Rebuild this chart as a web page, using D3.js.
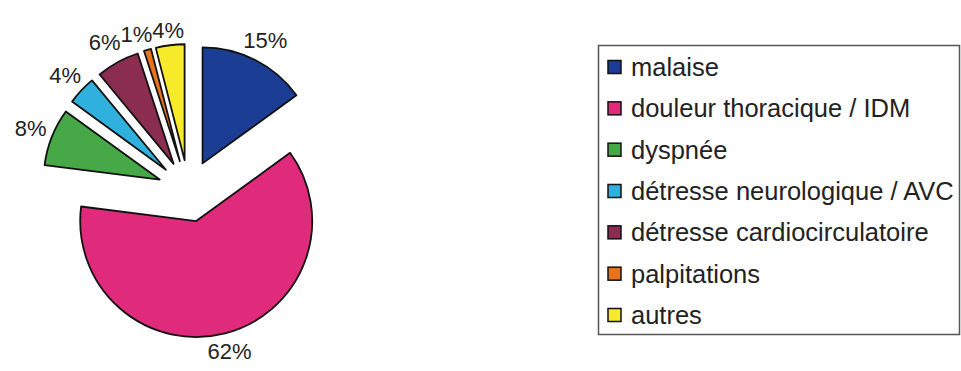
<!DOCTYPE html>
<html>
<head>
<meta charset="utf-8">
<script src="https://cdn.jsdelivr.net/npm/d3@7"></script>
<style>
  body { margin: 0; background: #fff; }
  svg { display: block; font-family: "Liberation Sans", Arial, sans-serif; }
</style>
</head>
<body>
<svg id="chart" width="961" height="371"></svg>
<script>
// data
const categories = ["malaise", "douleur thoracique / IDM", "dyspnée",
  "détresse neurologique / AVC", "détresse cardiocirculatoire", "palpitations", "autres"];
const values = [15, 62, 8, 4, 6, 1, 4];
const colors = ["#1b3d93", "#e02a7b", "#46a847", "#30b1dd", "#8b2d4e", "#e8731d", "#f6ea2b"];

const svg = d3.select("#chart");

const cx = 188.5, cy = 191;
const radius = 116, explode = 31;

const pie = d3.pie().sort(null).value(d => d.value);
const arc = d3.arc().innerRadius(0).outerRadius(radius);

const data = categories.map((c, i) => ({ name: c, value: values[i], color: colors[i] }));
const arcs = pie(data);

const g = svg.append("g").attr("transform", "translate(" + cx + "," + cy + ")");

function midAngle(d) { return (d.startAngle + d.endAngle) / 2; }

g.selectAll("path.slice")
  .data(arcs)
  .enter().append("path")
    .attr("class", "slice")
    .attr("d", arc)
    .attr("transform", d => {
      const a = midAngle(d);
      return "translate(" + (explode * Math.sin(a)) + "," + (-explode * Math.cos(a)) + ")";
    })
    .attr("fill", d => d.data.color)
    .attr("stroke", "#111")
    .attr("stroke-width", 1.8)
    .attr("stroke-linejoin", "round");

// percent labels, pushed out so the text box clears the slice
const labelR = 152, labelH = 16;
const labels = g.selectAll("text.pct")
  .data(arcs)
  .enter().append("text")
    .attr("class", "pct")
    .attr("font-size", 22)
    .attr("fill", "#222")
    .attr("text-anchor", "middle")
    .attr("dominant-baseline", "central")
    .text(d => d.data.value + "%");

const boxes = [];
labels.each(function(d) {
  const a = midAngle(d);
  const w = this.getComputedTextLength();
  const r = labelR + (w / 2) * Math.abs(Math.sin(a)) + (labelH / 2) * Math.abs(Math.cos(a));
  boxes.push({ node: this, a: a, w: w, x: r * Math.sin(a), y: -r * Math.cos(a) });
});

// crowded labels on the upper left: walk from the top outwards and push each one
// left until it no longer overlaps the one before it
const leftSide = boxes.filter(b => b.a > Math.PI).sort((p, q) => q.a - p.a);
for (let i = 1; i < leftSide.length; i++) {
  const prev = leftSide[i - 1], cur = leftSide[i];
  const overlapY = Math.abs(prev.y - cur.y) < labelH + 2;
  const overlapX = (cur.x + cur.w / 2) - (prev.x - prev.w / 2);
  if (overlapY && overlapX > 0) {
    cur.x -= overlapX;
    cur.y = (cur.y + prev.y) / 2 + 3;
  }
}

boxes.forEach(b => d3.select(b.node).attr("x", b.x).attr("y", b.y));

// legend
const legend = svg.append("g");
legend.append("rect")
  .attr("x", 598.5).attr("y", 45.5)
  .attr("width", 361).attr("height", 289)
  .attr("fill", "#fff")
  .attr("stroke", "#555")
  .attr("stroke-width", 1.5);

const rowY = d3.scalePoint().domain(categories).range([67, 315]);

const rows = legend.selectAll("g.row")
  .data(data)
  .enter().append("g")
    .attr("class", "row")
    .attr("transform", d => "translate(0," + rowY(d.name) + ")");

rows.append("rect")
  .attr("x", 608).attr("y", -6.5)
  .attr("width", 13).attr("height", 13)
  .attr("fill", d => d.color)
  .attr("stroke", "#111")
  .attr("stroke-width", 1.5);

rows.append("text")
  .attr("x", 631)
  .attr("y", 0)
  .attr("dominant-baseline", "central")
  .attr("font-size", 25.5)
  .attr("fill", "#222")
  .text(d => d.name);
</script>
</body>
</html>
